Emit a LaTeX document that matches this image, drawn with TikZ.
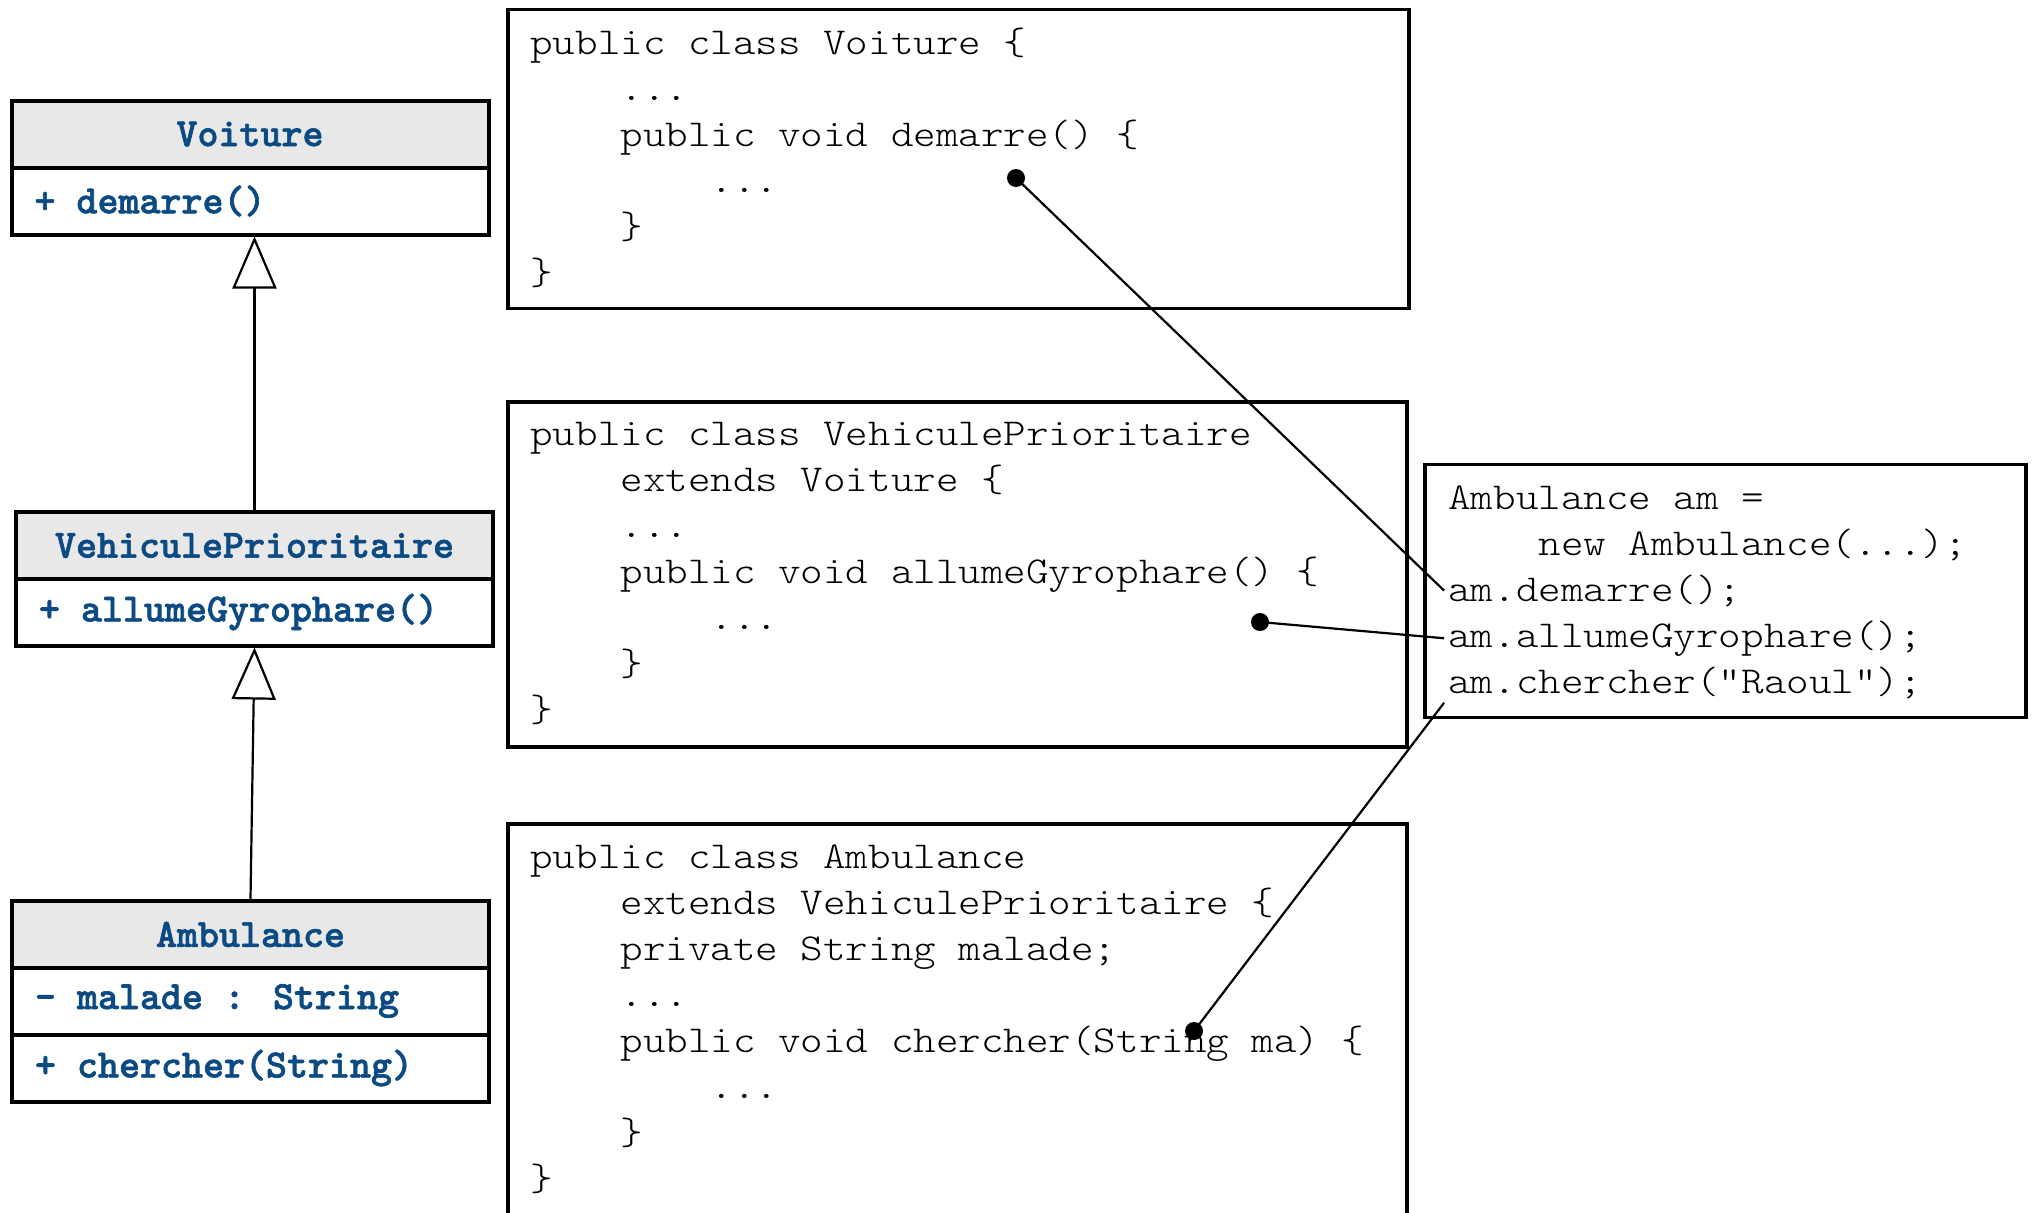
\documentclass[tikz,border=0pt]{standalone}
\usepackage{fontspec}
\newfontfamily\codefont[FakeStretch=1.13]{lmmonolt10-regular.otf}
\newfontfamily\umlbfont[FakeBold=1.6]{lmmonolt10-bold.otf}
\usepackage{xcolor}
\usetikzlibrary{arrows.meta, positioning}

\definecolor{umlblue}{HTML}{0B4A82}
\definecolor{umlgray}{HTML}{E8E8E8}
\newcommand{\codeind}{\phantom{xxxx}}

\begin{document}
\begin{tikzpicture}[
            x=0.5pt, y=-0.5pt,
            codefnt/.style ={font=\fontsize{19}{23}\selectfont\codefont,
                    execute at begin node={\spaceskip=0pt\xspaceskip=0pt}},
            code/.style    ={codefnt, anchor=base west, inner sep=0pt, align=left, text width=440pt},
            cline/.style   ={codefnt, anchor=base west, inner sep=2pt},
            codebox/.style ={draw, line width=1.6pt, inner sep=0pt},
            umlfont/.style ={font=\fontsize{20}{22}\selectfont\umlbfont, text=umlblue,
                    execute at begin node={\spaceskip=0pt\xspaceskip=0pt}},
            umlhead/.style ={draw, line width=2pt, fill=umlgray, umlfont, inner sep=0pt,
                    minimum width=238.5pt, minimum height=33.5pt},
            umlrow/.style  ={draw, line width=2pt, fill=white, umlfont, align=left,
                    text width=215.5pt, inner xsep=11.5pt, inner ysep=0pt, minimum height=33.5pt},
            inh/.style     ={-{Triangle[open, length=26pt, width=22pt]}, line width=1.1pt},
            dot/.style     ={circle, fill, inner sep=0pt, minimum size=9pt},
            link/.style    ={line width=1.1pt}
        ]
        \useasboundingbox (0,0) rectangle (2033,1212);
        \clip (0,0) rectangle (2033,1212);

        %% --- UML classes (left) ---
        \node[umlhead] (voitHead) at (250,134)    {Voiture};
        \node[umlrow]  (voitOps)  at (250,201)    {+ demarre()};
        \node[umlhead] (vpHead)   at (254.5,545.5) {VehiculePrioritaire};
        \node[umlrow]  (vpOps)    at (254.5,612)  {+ allumeGyrophare()};
        \node[umlhead] (ambHead)  at (250.5,934.5) {Ambulance};
        \node[umlrow]  (ambAttr)  at (250.5,1001) {- malade : String};
        \node[umlrow]  (ambOps)   at (250.5,1068) {+ chercher(String)};

        % generalisation arrows
        \draw[inh] (vpHead.north) -- (vpHead.north |- voitOps.south);
        \draw[inh] (ambHead.north) -- (vpOps.south);

        %% --- code of the three classes (middle) ---
        \node[codebox, minimum width=450.5pt, minimum height=149.5pt] (voitBox) at (958.5,159) {};
        \node[code] (voitCode) at (530,54)
              {public class Voiture \{\\
               \codeind...\\
               \codeind public void demarre() \{\\
               \codeind\codeind...\\
               \codeind\}\\
               \}};

        \node[codebox, minimum width=449.5pt, minimum height=172.5pt] (vpBox) at (957.5,574.5) {};
        \node[code] (vpCode) at (530,445)
              {public class VehiculePrioritaire\\
               \codeind extends Voiture \{\\
               \codeind...\\
               \codeind public void allumeGyrophare() \{\\
               \codeind\codeind...\\
               \codeind\}\\
               \}};

        % box runs off the bottom of the page
        \node[codebox, minimum width=449.5pt, minimum height=206pt] (ambBox) at (957.5,1030) {};
        \node[code] (ambCode) at (530,868)
              {public class Ambulance\\
               \codeind extends VehiculePrioritaire \{\\
               \codeind private String malade;\\
               \codeind...\\
               \codeind public void chercher(String ma) \{\\
               \codeind\codeind...\\
               \codeind\}\\
               \}};

        %% --- client code (right) ---
        \node[codebox, minimum width=300.5pt, minimum height=126.5pt] (client) at (1725.5,591) {};
        \node[cline] (clDecl)   at (1444,509) {Ambulance am =};
        \node[cline] (clNew)    at (1444,555) {\codeind new Ambulance(...);};
        \node[cline] (clDem)    at (1444,601) {am.demarre();};
        \node[cline] (clGyro)   at (1444,647) {am.allumeGyrophare();};
        \node[cline] (clCherch) at (1444,693) {am.chercher("Raoul");};

        %% --- calls bound to their methods ---
        \node[dot] (dVoit) at (1016,178)  {};
        \node[dot] (dVp)   at (1260,622)  {};
        \node[dot] (dAmb)  at (1194,1031) {};

        \draw[link] (dVoit.center) -- (clDem.west);
        \draw[link] (dVp.center)   -- (clGyro.west);
        \draw[link] (dAmb.center)  -- (clCherch.south west);

    \end{tikzpicture}
\end{document}
